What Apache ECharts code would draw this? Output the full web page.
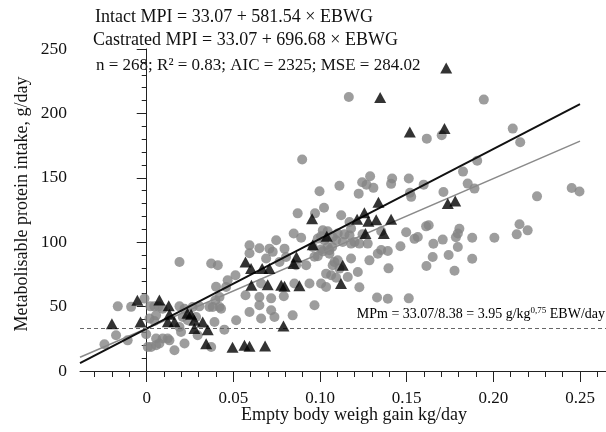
<!DOCTYPE html>
<html>
<head>
<meta charset="utf-8">
<script src="https://cdn.jsdelivr.net/npm/echarts@6/dist/echarts.min.js"></script>
<style>
html, body { margin: 0; padding: 0; background: #fff; }
#main { width: 606px; height: 432px; }
</style>
</head>
<body>
<div id="main"></div>
<script>
// grey circles
var circleX = [
  0.1166, 0.1945, 0.1616, 0.1702, 0.2112, 0.2155, 0.1907, 0.1825, 0.0897, 0.0997, 0.1112, 0.1023, 0.0871, 0.0971,
  0.1289, 0.1243, 0.1268, 0.1308, 0.1223, 0.1416, 0.1410, 0.1512, 0.1598, 0.1519, 0.1526, 0.1712, 0.1852, 0.1891,
  0.2252, 0.2452, 0.2497,
  0.1122, 0.1170, 0.1102, 0.1170, 0.1245, 0.1070, 0.1179, 0.1227, 0.1353, 0.1497, 0.1545, 0.1564, 0.1612, 0.1627,
  0.1654, 0.1708, 0.1795, 0.1804, 0.1784, 0.1795, 0.1878, 0.2006, 0.2151, 0.2198, 0.2135, 0.1650, 0.1742, 0.1878,
  0.1614, 0.1776, 0.1464, 0.1353, 0.1391, 0.1395, 0.1329, 0.1391, 0.1512, 0.1054, 0.1083, 0.1093, 0.1218, 0.1227,
  0.1160, 0.1333, 0.1285, 0.1179, 0.1102, 0.1112, 0.1073, 0.1035, 0.1064, 0.1006, 0.1035, 0.1275, 0.1199, 0.1141,
  0.1179, 0.1131, 0.1093, 0.1016, 0.1044, 0.1006, 0.0987, 0.1025, 0.1073, 0.0958, 0.1006, 0.1044, 0.1016, 0.1054,
  0.0968, 0.0987,
  0.0848, 0.0891, 0.0747, 0.0593, 0.0593, 0.0650, 0.0708, 0.0727, 0.0795, 0.0689, 0.0804, 0.0766, 0.0862, 0.0920,
  0.0512, 0.0189, 0.0372, 0.0410, 0.0467, 0.0400, 0.0458, 0.0420, 0.0396, 0.0570, 0.0650, 0.0718, 0.0791, 0.0939,
  0.0852, 0.0660, 0.0650, 0.0593, 0.0660, 0.0718, 0.0737, 0.0842, 0.0968,
  -0.0167, -0.0090, -0.0013, 0.0021, 0.0044, 0.0068, 0.0092, 0.0189, 0.0218, 0.0265, 0.0304, 0.0362, 0.0381, 0.0420,
  0.0429, 0.0016, 0.0044, 0.0054, 0.0208, 0.0237, 0.0285, 0.0391, 0.0516, 0.0448, 0.0189, 0.0198, 0.0294, 0.0218,
  0.0372, -0.0177, -0.0110, -0.0244, -0.0003, 0.0054, 0.0092, 0.0121, 0.0131, 0.0006, 0.0025, 0.0054, 0.0073, 0.0160
];
var circleY = [
  212.7, 210.7, 180.4, 183.0, 188.2, 177.6, 163.2, 154.8, 164.2, 139.5, 143.8, 126.7, 122.4, 122.4,
  151.2, 146.5, 144.6, 142.2, 137.7, 149.4, 145.3, 149.4, 144.7, 138.4, 135.2, 139.0, 145.5, 141.6,
  135.6, 142.1, 139.3,
  120.9, 115.7, 106.7, 105.4, 106.1, 96.3, 98.9, 98.9, 108.5, 107.7, 102.6, 104.0, 112.3, 113.1,
  98.8, 102.0, 106.7, 110.4, 103.8, 96.3, 103.4, 103.4, 113.9, 109.2, 106.1, 88.5, 90.0, 87.1,
  81.5, 77.8, 96.8, 93.9, 93.2, 79.7, 57.0, 56.1, 56.4, 91.1, 84.6, 72.4, 76.9, 65.0,
  73.0, 91.1, 85.9, 87.3, 85.9, 79.5, 82.1, 75.6, 74.3, 67.9, 65.2, 98.9, 100.2, 106.1,
  110.6, 100.2, 101.5, 109.2, 108.5, 104.6, 102.8, 101.5, 104.0, 96.3, 94.3, 96.3, 92.9, 93.7,
  88.7, 89.1,
  106.7, 103.4, 101.5, 97.6, 91.4, 95.3, 95.0, 92.5, 95.0, 87.3, 88.5, 84.6, 82.1, 82.1,
  74.3, 84.6, 83.4, 82.1, 70.4, 65.4, 65.2, 57.5, 54.9, 58.8, 57.5, 56.4, 58.0, 67.9,
  67.9, 67.9, 51.0, 45.8, 40.7, 47.1, 41.9, 43.2, 51.0,
  50.2, 49.8, 56.2, 50.2, 50.2, 50.2, 48.4, 50.2, 48.4, 49.7, 50.2, 49.7, 49.7, 49.7,
  48.4, 40.7, 38.8, 43.2, 41.9, 39.4, 41.9, 38.0, 39.4, 32.1, 34.2, 30.3, 27.7, 21.3,
  18.6, 27.7, 23.8, 20.7, 28.5, 25.2, 25.2, 25.2, 23.8, 18.6, 18.6, 20.0, 21.3, 16.1
];

// black triangles
var triX = [
  0.1728, 0.1347, 0.1518, 0.1718, 0.1337, 0.1737, 0.1780, 0.1256, 0.1214, 0.1279, 0.1324, 0.1410, 0.1262, 0.1368,
  0.0954, 0.1039, 0.0958, 0.0864, 0.0847, 0.0570, 0.0602, 0.0666, 0.0708, 0.0604, 0.0698, 0.0776, 0.0795, 0.0881,
  0.1131, 0.1121, -0.0201, -0.0054, -0.0036, 0.0073, 0.0127, 0.0131, 0.0122, 0.0160, 0.0235, 0.0256, 0.0275, 0.0275,
  0.0323, 0.0352, 0.0343, 0.0495, 0.0564, 0.0593, 0.0683, 0.0789
];
var triY = [
  235.2, 212.3, 185.6, 188.2, 131.0, 130.0, 132.0, 122.8, 117.8, 116.2, 117.4, 117.8, 106.7, 106.7,
  118.2, 104.6, 98.0, 88.5, 83.4, 84.6, 79.5, 79.5, 79.5, 66.5, 66.9, 66.5, 65.8, 66.1,
  82.1, 67.9, 36.6, 54.9, 38.0, 55.1, 50.6, 44.0, 38.2, 38.2, 44.8, 44.0, 39.4, 32.9,
  38.0, 32.0, 21.1, 18.4, 20.0, 19.2, 19.4, 34.9
];

// fitted lines, end points
var intactLineX = [-0.0385, 0.25];
var intactLineY = [10.7, 178.5];
var castLineX = [-0.0385, 0.25];
var castLineY = [6.2, 207.2];
var mpmLevel = 33.07;

var xMinorTicks = [-0.03, -0.02, -0.01, 0, 0.01, 0.02, 0.03, 0.04, 0.05, 0.06, 0.07, 0.08, 0.09, 0.10,
  0.11, 0.12, 0.13, 0.14, 0.15, 0.16, 0.17, 0.18, 0.19, 0.20, 0.21, 0.22, 0.23, 0.24, 0.25, 0.26];
var xMajorTicks = [0, 0.05, 0.10, 0.15, 0.20, 0.25];
var xTickLabels = ['0', '0.05', '0.10', '0.15', '0.20', '0.25'];

function zip(a, b) {
  var out = [];
  for (var i = 0; i < a.length; i++) out.push([a[i], b[i]]);
  return out;
}

var serif = '"Liberation Serif", "Times New Roman", serif';
var myChart = echarts.init(document.getElementById('main'));

var option = {
  animation: false,
  textStyle: { fontFamily: serif },
  grid: { left: 80, right: 0, top: 49, bottom: 61 },
  xAxis: [{
    type: 'value',
    min: -0.0385,
    max: 0.265,
    position: 'bottom',
    axisLine: { show: true, lineStyle: { color: '#222', width: 1 } },
    axisTick: { show: true, length: 6, customValues: xMinorTicks, lineStyle: { color: '#222' } },
    axisLabel: { show: false },
    splitLine: { show: false }
  }, {
    type: 'value',
    min: -0.0385,
    max: 0.265,
    position: 'bottom',
    axisLine: { show: false },
    axisTick: { show: true, length: 11, customValues: xMajorTicks, lineStyle: { color: '#222' } },
    axisLabel: {
      show: true,
      customValues: xMajorTicks,
      margin: 19,
      color: '#111',
      fontSize: 17,
      fontFamily: serif,
      formatter: function (v) {
        for (var i = 0; i < xMajorTicks.length; i++) {
          if (Math.abs(xMajorTicks[i] - v) < 1e-6) return xTickLabels[i];
        }
        return '';
      }
    },
    splitLine: { show: false }
  }],
  yAxis: {
    type: 'value',
    min: 0,
    max: 250,
    interval: 50,
    axisLine: { show: true, lineStyle: { color: '#222', width: 1 } },
    axisTick: { show: true, length: 10, lineStyle: { color: '#222' } },
    minorTick: { show: true, splitNumber: 5, length: 5, lineStyle: { color: '#222' } },
    axisLabel: { color: '#111', fontSize: 17.5, margin: 13, fontFamily: serif },
    splitLine: { show: false }
  },
  series: [{
    type: 'scatter',
    symbol: 'circle',
    symbolSize: 10,
    itemStyle: { color: '#858585' },
    data: zip(circleX, circleY),
    z: 2,
    markLine: {
      silent: true,
      symbol: 'none',
      label: { show: false },
      lineStyle: { color: '#666', width: 1, type: [4, 3] },
      data: [{ yAxis: mpmLevel }]
    }
  }, {
    type: 'line',
    showSymbol: false,
    lineStyle: { color: '#8a8a8a', width: 1.5 },
    data: zip(intactLineX, intactLineY),
    z: 3
  }, {
    type: 'line',
    showSymbol: false,
    lineStyle: { color: '#111', width: 2 },
    data: zip(castLineX, castLineY),
    z: 4
  }, {
    type: 'scatter',
    symbol: 'triangle',
    symbolSize: [12, 11],
    itemStyle: { color: '#000' },
    data: zip(triX, triY),
    z: 5
  }],
  graphic: [{
    type: 'text', x: 95, y: 17,
    style: { text: 'Intact MPI = 33.07 + 581.54 × EBWG', font: '18px ' + serif, fill: '#111', textVerticalAlign: 'middle' }
  }, {
    type: 'text', x: 93, y: 40,
    style: { text: 'Castrated MPI = 33.07 + 696.68 × EBWG', font: '18px ' + serif, fill: '#111', textVerticalAlign: 'middle' }
  }, {
    type: 'text', x: 96, y: 66,
    style: { text: 'n = 268; R² = 0.83; AIC = 2325; MSE = 284.02', font: '17px ' + serif, fill: '#111', textVerticalAlign: 'middle' }
  }, {
    type: 'text', x: 22, y: 204, rotation: Math.PI / 2,
    style: { text: 'Metabolisable protein intake, g/day', font: '18px ' + serif, fill: '#111', textAlign: 'center', textVerticalAlign: 'middle' }
  }, {
    type: 'text', x: 354, y: 415,
    style: { text: 'Empty body weigh gain kg/day', font: '18px ' + serif, fill: '#111', textAlign: 'center', textVerticalAlign: 'middle' }
  }, {
    type: 'text', x: 605, y: 314,
    style: {
      text: '{a|MPm = 33.07/8.38 = 3.95 g/kg}{s|0,75}{a| EBW/day}',
      textAlign: 'right',
      textVerticalAlign: 'middle',
      rich: {
        a: { fontSize: 14, lineHeight: 16, fontFamily: serif, color: '#111' },
        s: { fontSize: 9, lineHeight: 9, verticalAlign: 'top', fontFamily: serif, color: '#111' }
      }
    }
  }]
};

myChart.setOption(option);
</script>
</body>
</html>
